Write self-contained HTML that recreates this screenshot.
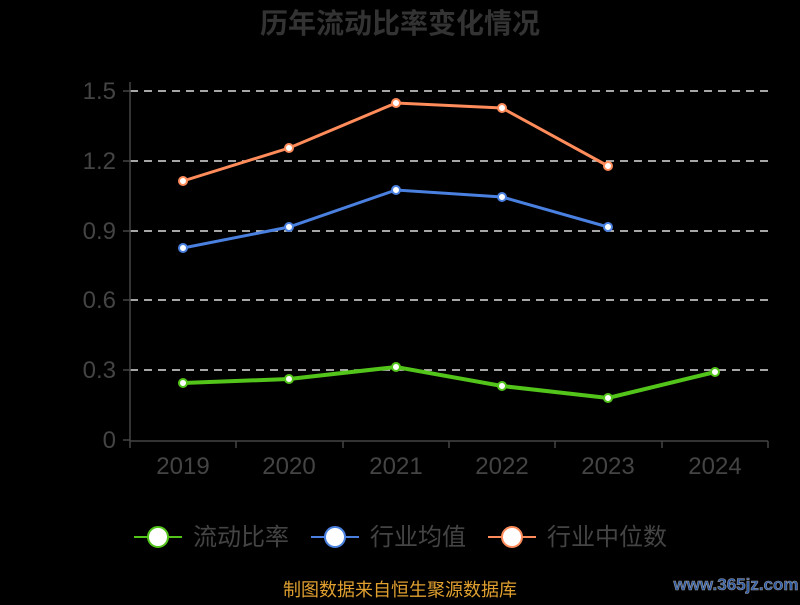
<!DOCTYPE html>
<html><head><meta charset="utf-8"><style>
body{margin:0;background:#000;width:800px;height:600px;overflow:hidden}
text{font-family:"Liberation Sans","Noto Sans CJK SC",sans-serif}
</style></head><body>
<svg width="800" height="600" viewBox="0 0 800 600">
<rect width="800" height="600" fill="#000"/>
<text x="400" y="33" text-anchor="middle" font-size="28" font-weight="bold" fill="#333">历年流动比率变化情况</text>
<g stroke="#ddd" stroke-width="1.5" stroke-dasharray="8,6">
<line x1="130" y1="91" x2="768" y2="91"/><line x1="130" y1="161" x2="768" y2="161"/>
<line x1="130" y1="231" x2="768" y2="231"/><line x1="130" y1="300" x2="768" y2="300"/>
<line x1="130" y1="370" x2="768" y2="370"/>
</g>
<g stroke="#444" stroke-width="1.5">
<line x1="130" y1="82" x2="130" y2="441"/><line x1="130" y1="441" x2="768" y2="441"/>
<line x1="123" y1="91" x2="130" y2="91"/><line x1="123" y1="161" x2="130" y2="161"/><line x1="123" y1="231" x2="130" y2="231"/><line x1="123" y1="300" x2="130" y2="300"/><line x1="123" y1="370" x2="130" y2="370"/><line x1="123" y1="440" x2="130" y2="440"/>
<line x1="130" y1="441" x2="130" y2="448"/><line x1="236" y1="441" x2="236" y2="448"/><line x1="343" y1="441" x2="343" y2="448"/><line x1="449" y1="441" x2="449" y2="448"/><line x1="555" y1="441" x2="555" y2="448"/><line x1="662" y1="441" x2="662" y2="448"/><line x1="768" y1="441" x2="768" y2="448"/>
</g>
<g font-size="24" fill="#444" text-anchor="end">
<text x="116" y="99">1.5</text><text x="116" y="169">1.2</text><text x="116" y="239">0.9</text><text x="116" y="308">0.6</text><text x="116" y="378">0.3</text><text x="116" y="448">0</text>
</g>
<g font-size="24" fill="#444" text-anchor="middle">
<text x="183" y="474">2019</text><text x="289" y="474">2020</text><text x="396" y="474">2021</text><text x="502" y="474">2022</text><text x="608" y="474">2023</text><text x="715" y="474">2024</text>
</g>
<polyline points="183,181 289,148 396,103 502,108 608,166" fill="none" stroke="#ff8c5a" stroke-width="3"/>
<polyline points="183,248 289,227 396,190 502,197 608,227" fill="none" stroke="#4a80e0" stroke-width="3"/>
<polyline points="183,383 289,379 396,367 502,386 608,398 715,372" fill="none" stroke="#52c41a" stroke-width="4"/>
<g fill="#fff" stroke-width="2">
<g stroke="#ff8c5a"><circle cx="183" cy="181" r="4"/><circle cx="289" cy="148" r="4"/><circle cx="396" cy="103" r="4"/><circle cx="502" cy="108" r="4"/><circle cx="608" cy="166" r="4"/></g>
<g stroke="#4a80e0"><circle cx="183" cy="248" r="4"/><circle cx="289" cy="227" r="4"/><circle cx="396" cy="190" r="4"/><circle cx="502" cy="197" r="4"/><circle cx="608" cy="227" r="4"/></g>
<g stroke="#52c41a"><circle cx="183" cy="383" r="4"/><circle cx="289" cy="379" r="4"/><circle cx="396" cy="367" r="4"/><circle cx="502" cy="386" r="4"/><circle cx="608" cy="398" r="4"/><circle cx="715" cy="372" r="4"/></g>
</g>
<g font-size="24" fill="#444">
<line x1="134" y1="537" x2="182" y2="537" stroke="#52c41a" stroke-width="2"/><circle cx="158" cy="537" r="10" fill="#fff" stroke="#52c41a" stroke-width="2"/><text x="193" y="545">流动比率</text>
<line x1="311" y1="537" x2="359" y2="537" stroke="#4a80e0" stroke-width="2"/><circle cx="335" cy="537" r="10" fill="#fff" stroke="#4a80e0" stroke-width="2"/><text x="370" y="545">行业均值</text>
<line x1="488" y1="537" x2="536" y2="537" stroke="#ff8c5a" stroke-width="2"/><circle cx="512" cy="537" r="10" fill="#fff" stroke="#ff8c5a" stroke-width="2"/><text x="547" y="545">行业中位数</text>
</g>
<text x="400" y="596" text-anchor="middle" font-size="18" fill="#e0a030">制图数据来自恒生聚源数据库</text>
<text x="736" y="590" text-anchor="middle" font-size="17" font-weight="bold" fill="#2a5aa8" stroke="#999" stroke-width="0.6">www.365jz.com</text>
</svg>
</body></html>
